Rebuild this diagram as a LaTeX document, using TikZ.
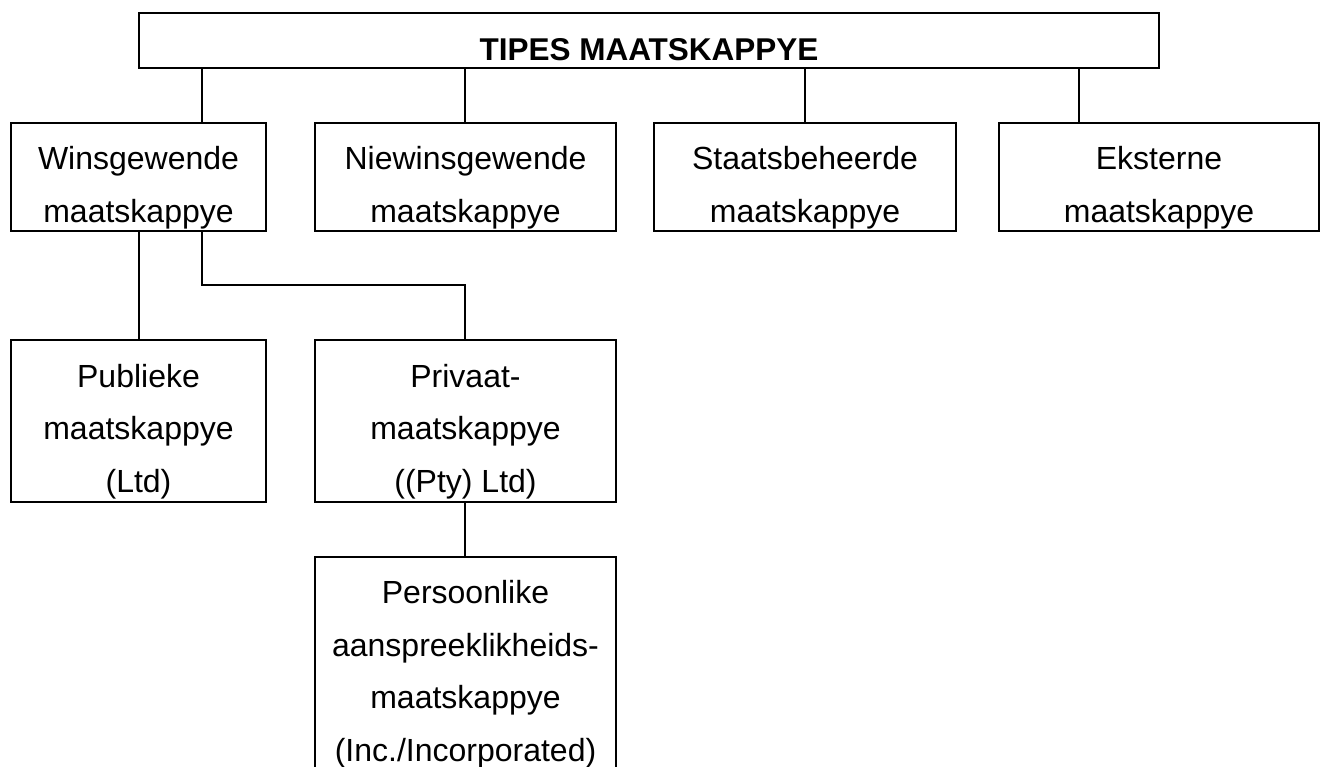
\documentclass[tikz,border=0pt]{standalone}
\usepackage{fontspec}
\setmainfont{Liberation Sans}
\begin{document}
\begin{tikzpicture}[x=1pt,y=-1pt,
  box/.style={draw=black,line width=2pt,fill=white,rectangle,inner sep=0pt},
  txt/.style={anchor=base,align=center,inner sep=0pt,font=\fontsize{32}{52.5}\selectfont},
  ttl/.style={anchor=base,inner sep=0pt,font=\fontsize{31.5}{40}\selectfont\bfseries},
  conn/.style={draw=black,line width=2pt}]
\useasboundingbox (0,0) rectangle (1321,766);
\clip (0,0) rectangle (1321,766);
% boxes
\node[box,minimum width=1020pt,minimum height=55pt] (top) at (649,40.5) {};
\node[box,minimum width=255pt,minimum height=108pt] (win) at (138.5,177) {};
\node[box,minimum width=301pt,minimum height=108pt] (nie) at (465.5,177) {};
\node[box,minimum width=302pt,minimum height=108pt] (sta) at (805,177) {};
\node[box,minimum width=320pt,minimum height=108pt] (eks) at (1159,177) {};
\node[box,minimum width=255pt,minimum height=162pt] (pub) at (138.5,421) {};
\node[box,minimum width=301pt,minimum height=162pt] (pri) at (465.5,421) {};
\node[box,minimum width=301pt,minimum height=260pt] (per) at (465.5,687) {};
% connectors
\draw[conn] (top.south -| 202,0) -- (win.north -| 202,0);
\draw[conn] (top.south -| 465,0) -- (nie.north -| 465,0);
\draw[conn] (top.south -| 805,0) -- (sta.north -| 805,0);
\draw[conn] (top.south -| 1079,0) -- (eks.north -| 1079,0);
\draw[conn] (win.south -| 139,0) -- (pub.north -| 139,0);
\coordinate (elbow) at (202,285);
\draw[conn] (win.south -| elbow) -- (elbow) -| (pri.north -| 465,0);
\draw[conn] (pri.south -| 465,0) -- (per.north -| 465,0);
% texts (base anchor = baseline of last line)
\node[ttl] (ttop) at (649,60) {TIPES MAATSKAPPYE};
\node[txt] (twin) at (138.5,222) {Winsgewende\\maatskappye};
\node[txt] (tnie) at (465.5,222) {Niewinsgewende\\maatskappye};
\node[txt] (tsta) at (805,222) {Staatsbeheerde\\maatskappye};
\node[txt] (teks) at (1159,222) {Eksterne\\maatskappye};
\node[txt] (tpub) at (138.5,492) {Publieke\\maatskappye\\(Ltd)};
\node[txt] (tpri) at (465.5,492) {Privaat-\\maatskappye\\((Pty) Ltd)};
\node[txt] (tper) at (465.5,761) {Persoonlike\\aanspreeklikheids-\\maatskappye\\(Inc./Incorporated)};
\end{tikzpicture}
\end{document}
